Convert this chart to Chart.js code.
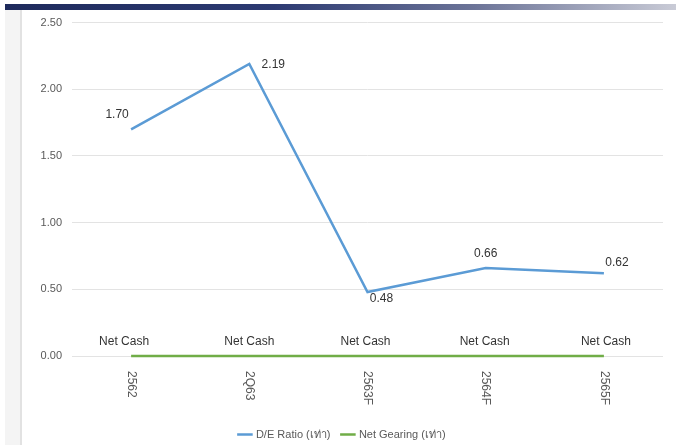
<!DOCTYPE html>
<html>
<head>
<meta charset="utf-8">
<script src="https://cdn.jsdelivr.net/npm/chart.js@4"></script>
<style>
  html, body { margin: 0; padding: 0; background: #fff; }
  body { width: 676px; height: 445px; position: relative; overflow: hidden; font-family: "Liberation Sans", Arial, sans-serif; }
  .topbar { position: absolute; left: 5px; top: 4px; width: 671px; height: 6px;
    background: linear-gradient(to right, #1e2a5c 0%, #2c3a72 40%, #6c7498 70%, #c9cbd6 100%); }
  .sidepanel { position: absolute; left: 5px; top: 10px; width: 15px; height: 435px; background: #f4f4f4; }
  .sideline { position: absolute; left: 20px; top: 10px; width: 2px; height: 435px; background: #e2e2e2; }
  .wrap { position: absolute; left: 22px; top: 6px; width: 654px; height: 444px; }
</style>
</head>
<body>
<div class="topbar"></div>
<div class="sidepanel"></div>
<div class="sideline"></div>
<div class="wrap"><canvas id="mainChart"></canvas></div>
<script>
const categories = ["2562", "2Q63", "2563F", "2564F", "2565F"];
const deRatio = [1.70, 2.19, 0.48, 0.66, 0.62];
const netGearing = [0, 0, 0, 0, 0];
const gearingLabel = "Net Cash";
const yTicks = [0, 0.5, 1.0, 1.5, 2.0, 2.5];

// where each label sits relative to its point
const deLabelOffset = [[-14, -15], [24, 1], [14, 7], [0, -14], [13, -11]];
const cashLabelOffset = [-7, 0, -2, -1, 2];

const labelPlugin = {
  id: "valueLabels",
  afterDatasetsDraw(chart) {
    const ctx = chart.ctx;
    ctx.save();
    ctx.textAlign = "center";
    ctx.textBaseline = "middle";

    // D/E values
    ctx.font = "12px 'Liberation Sans', Arial, sans-serif";
    ctx.fillStyle = "#333333";
    chart.getDatasetMeta(0).data.forEach((pt, i) => {
      const off = deLabelOffset[i];
      ctx.fillText(deRatio[i].toFixed(2), pt.x + off[0], pt.y + off[1]);
    });

    // Net Cash labels
    chart.getDatasetMeta(1).data.forEach((pt, i) => {
      ctx.fillText(gearingLabel, pt.x + cashLabelOffset[i], pt.y - 14);
    });

    // rotated category labels (clockwise)
    const xScale = chart.scales.x;
    ctx.font = "12px 'Liberation Sans', Arial, sans-serif";
    ctx.fillStyle = "#595959";
    ctx.textAlign = "left";
    categories.forEach((c, i) => {
      const x = xScale.getPixelForValue(i);
      ctx.save();
      ctx.translate(x, chart.chartArea.bottom + 15);
      ctx.rotate(Math.PI / 2);
      ctx.fillText(c, 0, 0);
      ctx.restore();
    });
    ctx.restore();
  },
};

new Chart(document.getElementById("mainChart").getContext("2d"), {
  type: "line",
  data: {
    labels: categories,
    datasets: [
      {
        label: "D/E Ratio (เท่า)",
        data: deRatio,
        borderColor: "#5b9bd5",
        backgroundColor: "#5b9bd5",
        borderWidth: 2.5,
        pointRadius: 0,
        tension: 0,
      },
      {
        label: "Net Gearing (เท่า)",
        data: netGearing,
        borderColor: "#70ad47",
        backgroundColor: "#70ad47",
        borderWidth: 2.5,
        pointRadius: 0,
        tension: 0,
        clip: false,
      },
    ],
  },
  options: {
    responsive: true,
    maintainAspectRatio: false,
    animation: false,
    layout: { padding: { top: 8, right: 13, left: 0, bottom: 0 } },
    plugins: {
      legend: {
        position: "bottom",
        labels: {
          usePointStyle: true,
          pointStyle: "line",
          boxWidth: 22,
          color: "#595959",
          font: { size: 11, family: "'Liberation Sans', Arial, sans-serif" },
          padding: 12,
        },
      },
      tooltip: { enabled: false },
    },
    scales: {
      y: {
        min: 0,
        max: 2.5,
        afterBuildTicks: (scale) => {
          scale.ticks = yTicks.map((v) => ({ value: v }));
        },
        afterFit: (scale) => {
          scale.width = 50;
        },
        border: { display: false },
        grid: { color: "#e3e3e3", drawTicks: false },
        ticks: {
          padding: 10,
          color: "#595959",
          font: { size: 11, family: "'Liberation Sans', Arial, sans-serif" },
          callback: (v) => Number(v).toFixed(2),
        },
      },
      x: {
        offset: true,
        border: { display: false },
        grid: { display: false },
        ticks: { display: false },
        afterFit: (scale) => {
          scale.height = 61;
        },
      },
    },
  },
  plugins: [labelPlugin],
});
</script>
</body>
</html>
